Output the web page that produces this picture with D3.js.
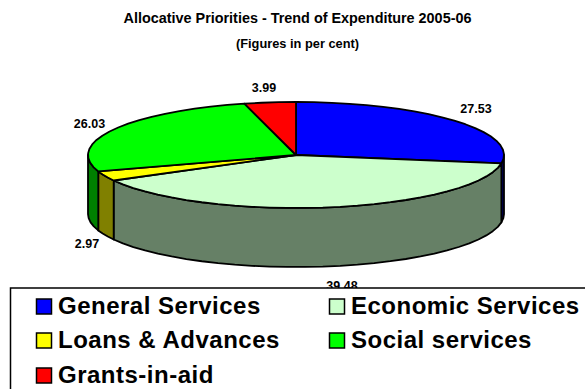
<!DOCTYPE html>
<html>
<head>
<meta charset="utf-8">
<script src="https://cdn.jsdelivr.net/npm/d3@7/dist/d3.min.js"></script>
<style>
html,body{margin:0;padding:0;background:#fff;overflow:hidden}
svg{display:block}
text{font-family:"Liberation Sans",Arial,sans-serif;font-weight:bold;fill:#000}
</style>
</head>
<body>
<svg id="chart" width="585" height="389"></svg>
<script>
const categories = ["General Services","Economic Services","Loans & Advances","Social services","Grants-in-aid"];
const shares = [27.53,39.48,2.97,26.03,3.99];
const topColors = ["#0000ff","#ccffcc","#ffff00","#00ff00","#ff0000"];
const sideColors = ["#000080","#668066","#808000","#008000","#800000"];
const titleText = "Allocative Priorities - Trend of Expenditure 2005-06";
const subtitleText = "(Figures in per cent)";

const svg = d3.select("#chart");
const cx = 296, cy = 155, rx = 208, ry = 53, depth = 59;

// Unit circle to screen: a flattened ellipse, clockwise from twelve o'clock.
const xScale = d3.scaleLinear().domain([-1,1]).range([cx-rx,cx+rx]);
const yScale = d3.scaleLinear().domain([-1,1]).range([cy-ry,cy+ry]);
const px = a => xScale(Math.sin(a));
const py = a => yScale(-Math.cos(a));

const pie = d3.pie().value(d=>d).sort(null);
const arcs = pie(shares);
const outline = d3.line();
const STEP = 5*Math.PI/180;

function rim(a0,a1,dy=0){
  const n = Math.max(1,Math.ceil((a1-a0)/STEP));
  return d3.range(n+1).map(i=>{const a=a0+(a1-a0)*i/n;return [px(a),py(a)+dy];});
}
const edge = {stroke:"#000",sw:1.8};

// Outer wall: only the part of each slice facing the viewer (90deg to 270deg).
const wall = svg.append("g");
arcs.forEach((d,i)=>{
  const a0=Math.max(d.startAngle,Math.PI/2), a1=Math.min(d.endAngle,3*Math.PI/2);
  if(a1<=a0) return;
  const pts = rim(a0,a1).concat(rim(a0,a1,depth).reverse());
  wall.append("path").attr("d",outline(pts)+"Z")
    .attr("fill",sideColors[i]).attr("stroke",edge.stroke)
    .attr("stroke-width",edge.sw).attr("stroke-linejoin","round");
});

// Top face of the disc.
svg.append("g").selectAll("path").data(arcs).join("path")
  .attr("d",d=>outline([[cx,cy],...rim(d.startAngle,d.endAngle)])+"Z")
  .attr("fill",(d,i)=>topColors[i]).attr("stroke",edge.stroke)
  .attr("stroke-width",edge.sw).attr("stroke-linejoin","round");

// Value labels around the disc.
const labelPos = [[476,113],[342,289.5],[87,248],[89.5,128],[264,92]];
svg.append("g").selectAll("text").data(shares).join("text")
  .attr("x",(d,i)=>labelPos[i][0]).attr("y",(d,i)=>labelPos[i][1])
  .attr("text-anchor","middle").attr("font-size",12.5).text(d=>d.toFixed(2));

// Titles.
svg.append("text").attr("x",297.5).attr("y",22.5).attr("text-anchor","middle")
  .attr("font-size",14.4).text(titleText);
svg.append("text").attr("x",297.5).attr("y",47.5).attr("text-anchor","middle")
  .attr("font-size",12.8).text(subtitleText);

// Legend panel, running off the right and bottom of the page.
const legend = svg.append("g");
legend.append("rect").attr("x",10.5).attr("y",288).attr("width",600).attr("height",130)
  .attr("fill","#fff").attr("stroke","#000").attr("stroke-width",1.5);
const colX = [36,329], rowY = [306,340,375];
const items = legend.selectAll("g").data(categories).join("g")
  .attr("transform",(d,i)=>`translate(${colX[i%2]},${rowY[Math.floor(i/2)]})`);
items.append("rect").attr("x",0.5).attr("y",-7).attr("width",15).attr("height",15)
  .attr("fill",(d,i)=>topColors[i]).attr("stroke","#000").attr("stroke-width",1.5);
items.append("text").attr("x",22).attr("y",8).attr("font-size",24).attr("letter-spacing",0.5).text(d=>d);
</script>
</body>
</html>
